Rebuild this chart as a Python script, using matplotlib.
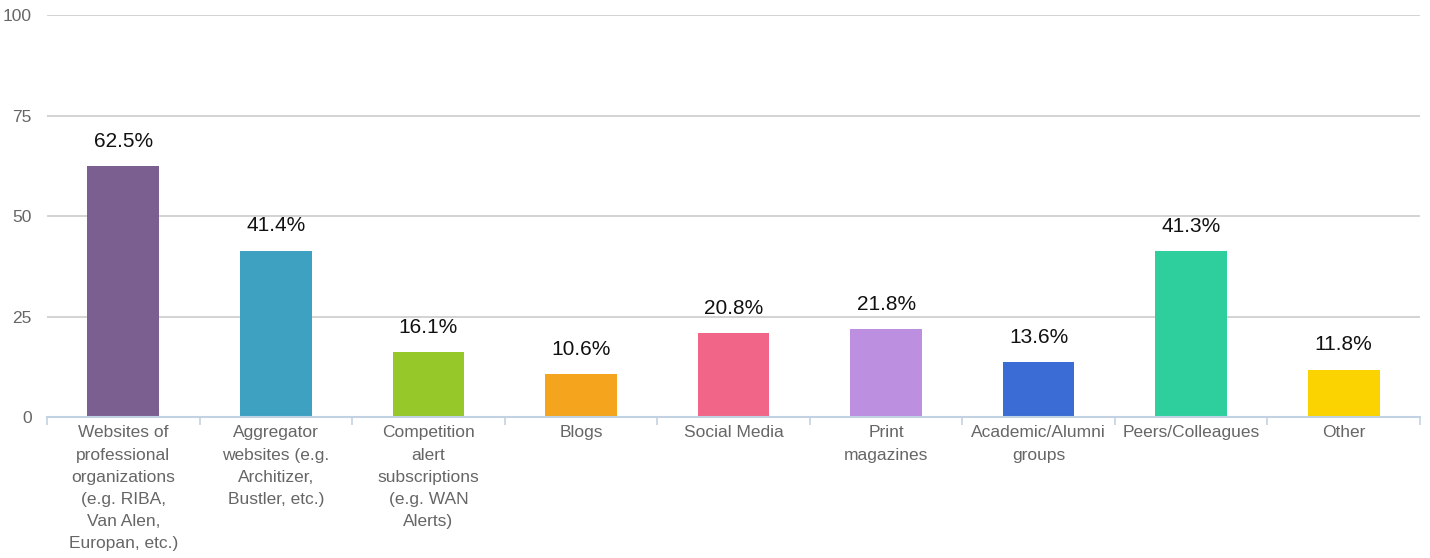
import matplotlib.pyplot as plt
import numpy as np

plt.rcParams['font.family'] = ['Liberation Sans', 'DejaVu Sans']

categories = [
    "Websites of\nprofessional\norganizations\n(e.g. RIBA,\nVan Alen,\nEuropan, etc.)",
    "Aggregator\nwebsites (e.g.\nArchitizer,\nBustler, etc.)",
    "Competition\nalert\nsubscriptions\n(e.g. WAN\nAlerts)",
    "Blogs",
    "Social Media",
    "Print\nmagazines",
    "Academic/Alumni\ngroups",
    "Peers/Colleagues",
    "Other",
]
values = [62.5, 41.4, 16.1, 10.6, 20.8, 21.8, 13.6, 41.3, 11.8]
colors = ["#7b5f91", "#3fa1c1", "#97c82a", "#f4a51d", "#f06588",
          "#bd8fe0", "#3b6bd4", "#2ecf9d", "#fad300"]
yticks = [0, 25, 50, 75, 100]

fig = plt.figure(figsize=(14.3, 5.58), dpi=100)
ax = fig.add_axes([0.0329, 0.2527, 0.9601, 0.7203])

x = np.arange(len(categories))
bars = ax.bar(x, values, width=0.47, color=colors, zorder=3)

for b, v in zip(bars, values):
    ax.annotate(f"{v}%", (b.get_x() + b.get_width() / 2, v),
                xytext=(0, 11), textcoords="offset points",
                ha="center", va="bottom", fontsize=15, color="#111111")

ax.set_xlim(-0.5, len(categories) - 0.5)
ax.set_ylim(0, 100)
ax.set_yticks(yticks)
ax.set_yticklabels([str(t) for t in yticks])
ax.yaxis.grid(True, color="#cccccc", linewidth=1.2, zorder=0)
ax.tick_params(axis="y", length=0, labelsize=12.5, labelcolor="#666666", pad=11)

# category labels at bar centres, tick marks at category boundaries
ax.set_xticks(x)
ax.set_xticklabels(categories, fontsize=12.5, color="#666666", linespacing=1.6)
ax.tick_params(axis="x", which="major", length=0, pad=6)
ax.set_xticks(np.arange(len(categories) + 1) - 0.5, minor=True)
ax.tick_params(axis="x", which="minor", length=6, color="#c3d2e3", width=1.2)

for side in ["top", "right", "left"]:
    ax.spines[side].set_visible(False)
ax.spines["bottom"].set_color("#c3d2e3")
ax.spines["bottom"].set_linewidth(1.5)
ax.spines["bottom"].set_zorder(4)

fig.savefig("out.png", dpi=100)
